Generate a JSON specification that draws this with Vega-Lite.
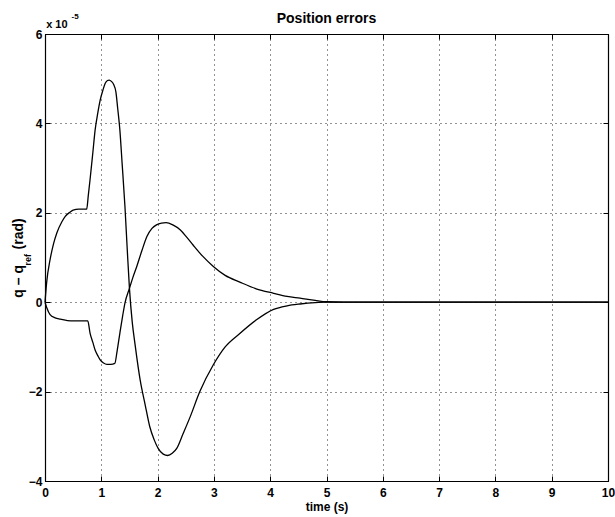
{
  "$schema": "https://vega.github.io/schema/vega-lite/v6.json",
  "width": 563,
  "height": 447,
  "autosize": {"type": "none"},
  "padding": {"left": 45, "top": 34, "right": 7, "bottom": 36},
  "background": "white",
  "title": {"text": "Position errors", "fontSize": 14, "fontWeight": "bold", "font": "Liberation Sans", "color": "#000", "offset": -13, "anchor": "middle"},
  "config": {
    "view": {"stroke": "#000", "strokeWidth": 1},
    "axis": {"domainColor": "#000", "domainWidth": 1.2, "tickColor": "#000", "labelColor": "#000", "labelFont": "Liberation Sans", "labelFontWeight": "bold", "labelFontSize": 12, "titleFont": "Liberation Sans", "titleFontWeight": "bold", "titleColor": "#000", "titleFontSize": 12}
  },
  "datasets": {
    "err": [
      {"s": "a", "t": 0, "v": 0}, {"s": "a", "t": 0.03, "v": 0.45}, {"s": "a", "t": 0.09, "v": 0.95}, {"s": "a", "t": 0.15, "v": 1.3}, {"s": "a", "t": 0.21, "v": 1.55}, {"s": "a", "t": 0.3, "v": 1.8}, {"s": "a", "t": 0.36, "v": 1.92}, {"s": "a", "t": 0.45, "v": 2.02}, {"s": "a", "t": 0.5, "v": 2.06}, {"s": "a", "t": 0.6, "v": 2.08}, {"s": "a", "t": 0.74, "v": 2.08}, {"s": "a", "t": 0.77, "v": 2.4}, {"s": "a", "t": 0.8, "v": 2.74}, {"s": "a", "t": 0.85, "v": 3.35}, {"s": "a", "t": 0.89, "v": 3.85}, {"s": "a", "t": 0.94, "v": 4.25}, {"s": "a", "t": 0.98, "v": 4.52}, {"s": "a", "t": 1.03, "v": 4.75}, {"s": "a", "t": 1.07, "v": 4.9}, {"s": "a", "t": 1.11, "v": 4.96}, {"s": "a", "t": 1.14, "v": 4.97}, {"s": "a", "t": 1.18, "v": 4.94}, {"s": "a", "t": 1.22, "v": 4.87}, {"s": "a", "t": 1.26, "v": 4.7}, {"s": "a", "t": 1.29, "v": 4.35}, {"s": "a", "t": 1.33, "v": 3.85}, {"s": "a", "t": 1.37, "v": 3.1}, {"s": "a", "t": 1.42, "v": 2.14}, {"s": "a", "t": 1.46, "v": 1.2}, {"s": "a", "t": 1.5, "v": 0.31}, {"s": "a", "t": 1.55, "v": -0.45}, {"s": "a", "t": 1.6, "v": -0.95}, {"s": "a", "t": 1.69, "v": -1.74}, {"s": "a", "t": 1.78, "v": -2.3}, {"s": "a", "t": 1.86, "v": -2.78}, {"s": "a", "t": 1.94, "v": -3.08}, {"s": "a", "t": 2.01, "v": -3.27}, {"s": "a", "t": 2.1, "v": -3.4}, {"s": "a", "t": 2.18, "v": -3.43}, {"s": "a", "t": 2.26, "v": -3.38}, {"s": "a", "t": 2.34, "v": -3.27}, {"s": "a", "t": 2.45, "v": -2.95}, {"s": "a", "t": 2.58, "v": -2.56}, {"s": "a", "t": 2.75, "v": -2.0}, {"s": "a", "t": 2.99, "v": -1.4}, {"s": "a", "t": 3.2, "v": -1.0}, {"s": "a", "t": 3.46, "v": -0.7}, {"s": "a", "t": 3.75, "v": -0.4}, {"s": "a", "t": 4.06, "v": -0.16}, {"s": "a", "t": 4.3, "v": -0.08}, {"s": "a", "t": 4.53, "v": -0.04}, {"s": "a", "t": 4.8, "v": -0.01}, {"s": "a", "t": 5.0, "v": 0}, {"s": "a", "t": 10, "v": 0},
      {"s": "b", "t": 0, "v": 0}, {"s": "b", "t": 0.03, "v": -0.12}, {"s": "b", "t": 0.09, "v": -0.28}, {"s": "b", "t": 0.18, "v": -0.35}, {"s": "b", "t": 0.27, "v": -0.38}, {"s": "b", "t": 0.4, "v": -0.41}, {"s": "b", "t": 0.5, "v": -0.42}, {"s": "b", "t": 0.76, "v": -0.42}, {"s": "b", "t": 0.8, "v": -0.69}, {"s": "b", "t": 0.85, "v": -0.9}, {"s": "b", "t": 0.89, "v": -1.07}, {"s": "b", "t": 0.94, "v": -1.2}, {"s": "b", "t": 0.98, "v": -1.29}, {"s": "b", "t": 1.04, "v": -1.36}, {"s": "b", "t": 1.1, "v": -1.39}, {"s": "b", "t": 1.17, "v": -1.39}, {"s": "b", "t": 1.24, "v": -1.37}, {"s": "b", "t": 1.28, "v": -1.1}, {"s": "b", "t": 1.33, "v": -0.69}, {"s": "b", "t": 1.38, "v": -0.3}, {"s": "b", "t": 1.42, "v": -0.02}, {"s": "b", "t": 1.5, "v": 0.31}, {"s": "b", "t": 1.56, "v": 0.55}, {"s": "b", "t": 1.63, "v": 0.8}, {"s": "b", "t": 1.72, "v": 1.15}, {"s": "b", "t": 1.81, "v": 1.47}, {"s": "b", "t": 1.9, "v": 1.65}, {"s": "b", "t": 1.98, "v": 1.73}, {"s": "b", "t": 2.07, "v": 1.77}, {"s": "b", "t": 2.15, "v": 1.78}, {"s": "b", "t": 2.27, "v": 1.73}, {"s": "b", "t": 2.4, "v": 1.62}, {"s": "b", "t": 2.52, "v": 1.45}, {"s": "b", "t": 2.63, "v": 1.28}, {"s": "b", "t": 2.8, "v": 1.03}, {"s": "b", "t": 2.99, "v": 0.8}, {"s": "b", "t": 3.2, "v": 0.6}, {"s": "b", "t": 3.46, "v": 0.45}, {"s": "b", "t": 3.75, "v": 0.3}, {"s": "b", "t": 4.06, "v": 0.2}, {"s": "b", "t": 4.3, "v": 0.13}, {"s": "b", "t": 4.53, "v": 0.09}, {"s": "b", "t": 4.8, "v": 0.04}, {"s": "b", "t": 5.0, "v": 0.01}, {"s": "b", "t": 5.3, "v": 0}, {"s": "b", "t": 10, "v": 0}
    ]
  },
  "resolve": {"axis": {"x": "independent", "y": "independent"}},
  "layer": [
    {
      "data": {"name": "err"},
      "mark": {"type": "line", "color": "#000", "strokeWidth": 1.3, "interpolate": "monotone"},
      "encoding": {
        "x": {"field": "t", "type": "quantitative", "scale": {"domain": [0, 10], "nice": false, "zero": false},
              "axis": {"orient": "bottom", "values": [0,1,2,3,4,5,6,7,8,9,10], "title": "time (s)", "titlePadding": 3, "tickSize": -5, "labelPadding": 11, "grid": true, "gridColor": "#000", "gridDash": [1, 4], "gridOpacity": 0.85, "labelFlush": false}},
        "y": {"field": "v", "type": "quantitative", "scale": {"domain": [-4, 6], "nice": false, "zero": false},
              "axis": {"orient": "left", "values": [-4,-2,0,2,4,6], "title": null, "tickSize": -5, "labelPadding": 8, "grid": true, "gridColor": "#000", "gridDash": [1, 4], "gridOpacity": 0.85, "labelFlush": false}},
        "detail": {"field": "s"}
      }
    },
    {
      "data": {"name": "err"},
      "mark": {"type": "point", "opacity": 0},
      "encoding": {
        "x": {"field": "t", "type": "quantitative", "axis": {"orient": "top", "values": [0,1,2,3,4,5,6,7,8,9,10], "title": null, "labels": false, "tickSize": -5, "grid": false}},
        "y": {"field": "v", "type": "quantitative", "axis": {"orient": "right", "values": [-4,-2,0,2,4,6], "title": null, "labels": false, "tickSize": -5, "grid": false}}
      }
    },
    {
      "data": {"values": [{"label": "q – q"}]},
      "mark": {"type": "text", "angle": 270, "align": "left", "baseline": "middle", "font": "Liberation Sans", "fontWeight": "bold", "fontSize": 14, "color": "#000"},
      "encoding": {"x": {"datum": -0.46, "type": "quantitative", "axis": null}, "y": {"datum": 0.1, "type": "quantitative", "axis": null}, "text": {"field": "label"}}
    },
    {
      "data": {"values": [{"label": "ref"}]},
      "mark": {"type": "text", "angle": 270, "align": "left", "baseline": "middle", "font": "Liberation Sans", "fontWeight": "bold", "fontSize": 9, "color": "#000"},
      "encoding": {"x": {"datum": -0.31, "type": "quantitative", "axis": null}, "y": {"datum": 0.82, "type": "quantitative", "axis": null}, "text": {"field": "label"}}
    },
    {
      "data": {"values": [{"label": "(rad)"}]},
      "mark": {"type": "text", "angle": 270, "align": "left", "baseline": "middle", "font": "Liberation Sans", "fontWeight": "bold", "fontSize": 14, "color": "#000"},
      "encoding": {"x": {"datum": -0.46, "type": "quantitative", "axis": null}, "y": {"datum": 1.18, "type": "quantitative", "axis": null}, "text": {"field": "label"}}
    },
    {
      "data": {"values": [{"label": "x 10"}]},
      "mark": {"type": "text", "align": "left", "baseline": "middle", "font": "Liberation Sans", "fontWeight": "bold", "fontSize": 11, "color": "#000"},
      "encoding": {"x": {"datum": 0.02, "type": "quantitative", "axis": null}, "y": {"datum": 6.21, "type": "quantitative", "axis": null}, "text": {"field": "label"}}
    },
    {
      "data": {"values": [{"label": "-5"}]},
      "mark": {"type": "text", "align": "left", "baseline": "middle", "font": "Liberation Sans", "fontWeight": "bold", "fontSize": 8, "color": "#000"},
      "encoding": {"x": {"datum": 0.47, "type": "quantitative", "axis": null}, "y": {"datum": 6.38, "type": "quantitative", "axis": null}, "text": {"field": "label"}}
    }
  ]
}
